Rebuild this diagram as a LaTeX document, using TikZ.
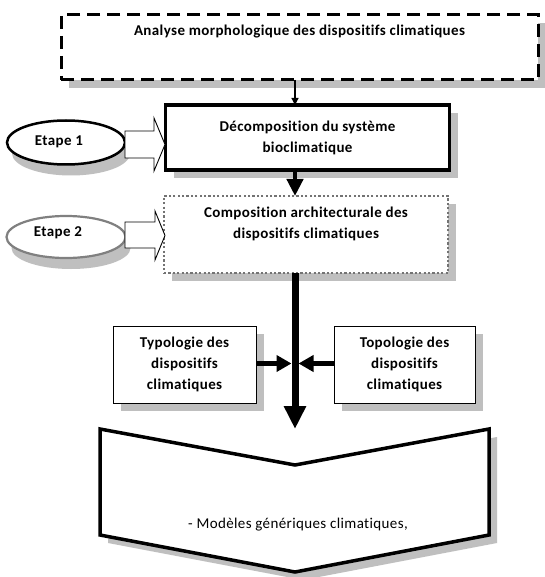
\documentclass[tikz,border=0pt]{standalone}
\usepackage{fontspec}
\setmainfont{Carlito}[LetterSpace=2.5,Ligatures={NoCommon}]
\usetikzlibrary{arrows.meta,shapes.geometric,shadows,calc}
\begin{document}
\begin{tikzpicture}[x=1pt,y=-1pt,
  lab/.style={font=\fontsize{15}{21}\selectfont\bfseries, align=center, inner sep=0, outer sep=0},
  plainlab/.style={font=\fontsize{15}{21}\selectfont, align=center, inner sep=0, outer sep=0},
  shad/.style={drop shadow={shadow xshift=8pt,shadow yshift=-8pt,fill=black!25,opacity=1}},
  eshad/.style={drop shadow={shadow xshift=5pt,shadow yshift=-11pt,fill=black!25,opacity=1}},
  boxbase/.style={rectangle, fill=white, inner sep=0, outer sep=0},
  dashbox/.style={boxbase, draw=black, line width=3pt, dash pattern=on 13pt off 7pt, shad},
  thickbox/.style={boxbase, draw=black, line width=3.5pt, shad},
  dotbox/.style={boxbase, draw=black!55, line width=2.3pt, dash pattern=on 2.2pt off 2.2pt, shad},
  thinbox/.style={boxbase, draw=black, line width=1pt, shad, lab},
  ell/.style={ellipse, fill=white, inner sep=0, outer sep=0, eshad},
  blockar/.style={draw=black, fill=white, line width=0.9pt, line join=miter},
  thinar/.style={draw=black, line width=1.2pt, -{Triangle[length=7pt,width=7pt]}},
  medar/.style={draw=black, line width=4.5pt, -{Triangle[length=17pt,width=16pt]}},
  bigar/.style={draw=black, line width=7pt, -{Triangle[length=23pt,width=21pt]}},
  sidear/.style={draw=black, line width=5pt, -{Triangle[length=15pt,width=16pt]}}
]
\useasboundingbox (0,0) rectangle (544,577);
\fill[white] (0,0) rectangle (544,577);

% spine of the vertical arrows
\coordinate (spine) at (295,0);

% top dashed box
\node[dashbox, minimum width=477pt, minimum height=65pt] (top) at (299.5,47.5) {};
\node[lab] (toptxt) at (299.5,32) {Analyse morphologique des dispositifs climatiques};

% box 1
\node[thickbox, lab, minimum width=284pt, minimum height=65pt] (box1) at (307.5,137.5)
  {Décomposition du système\\bioclimatique};

% box 2
\node[dotbox, minimum width=284pt, minimum height=77pt] (box2) at (306,234.5) {};
\node[lab] (box2txt) at (306,223.5) {Composition architecturale des\\dispositifs climatiques};

% ellipses
\node[ell, draw=black, line width=2.5pt, minimum width=118pt, minimum height=44pt] (e1) at (66,142.5) {};
\node[lab] (e1txt) at (59,142) {Etape 1};
\node[ell, draw=black!50, line width=2.2pt, minimum width=119pt, minimum height=42pt] (e2) at (66,237) {};
\node[lab] (e2txt) at (58,232.5) {Etape 2};

% block arrows
\draw[blockar] (125,131) -- (154,131) -- (154,118) -- (165,144.5) -- (154,171) -- (154,158) -- (125,158) -- cycle;
\draw[blockar] (125,222) -- (155,222) -- (155,211) -- (165,235.5) -- (155,260) -- (155,248) -- (125,248) -- cycle;

% typologie / topologie
\node[thinbox, minimum width=143pt, minimum height=77pt] (typ) at (184.5,364.5)
  {Typologie des\\dispositifs\\climatiques};
\node[thinbox, minimum width=141pt, minimum height=77pt] (topo) at (404.5,364.5)
  {Topologie des\\dispositifs\\climatiques};

% chevron
\fill[black!25, shift={(8,8)}] (100,429) -- (295,465) -- (489,429) -- (489,535) -- (295,572) -- (100,535) -- cycle;
\draw[black, fill=white, line width=3.5pt, line join=miter]
  (100,429) -- (295,465) -- (489,429) -- (489,535) -- (295,572) -- (100,535) -- cycle;
\coordinate (chev) at (295,429);
\node[plainlab] (chevtxt) at (298,525) {- Modèles génériques climatiques,};

% connectors
\coordinate (mid) at (295,363.5);
\draw[thinar] (top.south -| spine) -- (box1.north -| spine);
\draw[medar] (box1.south -| spine) -- (box2.north -| spine);
\draw[bigar] (box2.south -| spine) -- (chev);
\draw[sidear] (typ.east |- mid) -- ([xshift=-3.5pt]mid);
\draw[sidear] (topo.west |- mid) -- ([xshift=3.5pt]mid);
\end{tikzpicture}
\end{document}
